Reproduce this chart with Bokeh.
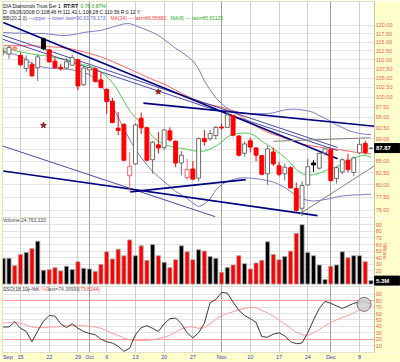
import math
from bokeh.plotting import figure
from bokeh.layouts import column
from bokeh.models import Range1d, FixedTicker, Label, Grid
from bokeh.core.properties import value
from bokeh.embed import file_html
from bokeh.resources import INLINE

# ---------------- data ----------------
dates = ["2008-09-10", "2008-09-11", "2008-09-12", "2008-09-15", "2008-09-16",
         "2008-09-17", "2008-09-18", "2008-09-19", "2008-09-22", "2008-09-23",
         "2008-09-24", "2008-09-25", "2008-09-26", "2008-09-29", "2008-09-30",
         "2008-10-01", "2008-10-02", "2008-10-03", "2008-10-06", "2008-10-07",
         "2008-10-08", "2008-10-09", "2008-10-10", "2008-10-13", "2008-10-14",
         "2008-10-15", "2008-10-16", "2008-10-17", "2008-10-20", "2008-10-21",
         "2008-10-22", "2008-10-23", "2008-10-24", "2008-10-27", "2008-10-28",
         "2008-10-29", "2008-10-30", "2008-10-31", "2008-11-03", "2008-11-04",
         "2008-11-05", "2008-11-06", "2008-11-07", "2008-11-10", "2008-11-11",
         "2008-11-12", "2008-11-13", "2008-11-14", "2008-11-17", "2008-11-18",
         "2008-11-19", "2008-11-20", "2008-11-21", "2008-11-24", "2008-11-25",
         "2008-11-26", "2008-11-28", "2008-12-01", "2008-12-02", "2008-12-03",
         "2008-12-04", "2008-12-05", "2008-12-08", "2008-12-09", "2008-12-10"]

opens = [112.2, 111.6, 113.0, 111.2, 107.6, 108.6, 107.8, 116.0, 112.8, 109.6,
         107.9, 107.7, 108.46, 110.0, 103.2, 107.2, 107.5, 104.5, 102.0, 99.0,
         92.4, 93.3, 81.9, 84.4, 94.8, 92.5, 85.3, 88.6, 88.0, 91.8,
         89.4, 84.6, 81.5, 83.3, 81.4, 90.0, 90.0, 90.7, 92.7, 92.6,
         95.5, 90.6, 86.7, 89.5, 87.9, 86.2, 82.3, 87.0, 84.0, 82.3,
         83.6, 79.3, 75.4, 80.0, 84.6, 83.5, 86.8, 87.5, 81.3, 82.7,
         85.2, 82.6, 86.8, 88.9, 87.8]
highs = [113.3, 114.2, 114.1, 112.0, 111.2, 109.4, 111.6, 116.4, 113.0, 110.5,
         108.9, 110.5, 111.41, 110.3, 108.2, 108.3, 107.9, 106.6, 102.3, 99.8,
         96.3, 93.6, 87.0, 93.6, 96.2, 92.8, 89.5, 91.5, 92.3, 92.6,
         89.6, 87.2, 85.5, 85.0, 90.3, 92.0, 92.0, 93.0, 93.5, 96.6,
         95.6, 90.8, 89.3, 90.2, 88.0, 86.3, 88.4, 88.0, 84.8, 84.5,
         83.9, 80.5, 80.8, 85.5, 85.2, 86.8, 87.8, 87.6, 83.8, 85.6,
         86.6, 86.0, 89.9, 89.5, 88.0]
lows = [111.2, 110.3, 112.4, 108.2, 106.6, 105.2, 104.2, 112.7, 109.2, 107.6,
        107.0, 107.5, 108.28, 101.8, 103.0, 106.0, 103.8, 102.2, 95.9, 93.6,
        90.8, 85.0, 78.7, 84.2, 91.1, 85.0, 82.3, 86.7, 87.4, 89.3,
        83.7, 82.0, 81.0, 81.0, 80.7, 88.4, 89.5, 89.8, 92.0, 92.5,
        90.5, 86.0, 86.0, 86.9, 85.0, 82.0, 80.0, 84.0, 81.8, 80.9,
        79.3, 74.7, 73.9, 79.9, 82.7, 83.2, 86.2, 80.7, 80.3, 82.2,
        82.6, 81.8, 86.5, 86.5, 87.7]
closes = [112.4, 113.5, 113.4, 108.6, 110.0, 105.6, 110.8, 113.1, 109.4, 107.8,
          107.5, 109.4, 110.56, 102.9, 107.7, 107.8, 104.1, 102.5, 98.9, 93.8,
          91.9, 85.2, 83.9, 93.2, 92.5, 85.2, 89.2, 87.9, 92.0, 89.7,
          84.6, 86.3, 83.2, 81.2, 90.0, 89.3, 91.2, 92.6, 92.5, 95.6,
          90.8, 86.3, 88.8, 88.1, 86.3, 82.2, 87.7, 84.4, 82.2, 83.7,
          79.4, 75.0, 79.9, 83.8, 84.2, 86.7, 87.7, 80.9, 83.6, 85.3,
          83.2, 85.7, 88.7, 86.9, 87.87]
volumes = [39, 39, 28, 45, 48, 54, 65, 21, 22, 25,
           20, 27, 22, 34, 24, 23, 19, 30, 49, 38,
           53, 43, 67, 43, 58, 36, 60, 43, 33, 25,
           37, 58, 49, 37, 52, 50, 42, 39, 18, 25,
           29, 43, 31, 23, 32, 36, 64, 45, 37, 42,
           50, 77, 90, 48, 43, 29, 7, 27, 29, 49,
           40, 43, 43, 34, 5.3]
ma8 = [113.4, 113.0, 112.6, 112.2, 111.9, 111.6, 111.3, 111.2, 110.9, 110.6,
       110.3, 110.1, 109.6, 109.0, 108.6, 108.3, 107.6, 106.6, 105.4, 103.8,
       101.6, 99.0, 96.6, 95.0, 93.6, 92.0, 90.5, 89.4, 88.7, 88.3,
       88.0, 87.8, 87.6, 87.3, 87.1, 87.2, 87.6, 88.3, 89.2, 90.4,
       91.0, 91.2, 91.3, 91.2, 90.5, 89.4, 88.6, 87.7, 86.8, 85.8,
       84.6, 83.2, 82.3, 82.0, 82.1, 82.4, 82.9, 83.4, 83.8, 84.4,
       85.0, 85.6, 86.1, 86.3, 85.8]
ma34 = [114.0, 114.0, 114.0, 114.0, 114.0, 114.0, 113.9, 113.8, 113.7, 113.6,
        113.5, 113.3, 113.0, 112.6, 112.2, 111.8, 111.3, 110.8, 110.2, 109.5,
        108.8, 108.1, 107.4, 106.7, 106.0, 105.3, 104.6, 104.0, 103.4, 102.6,
        101.8, 101.0, 100.3, 99.6, 99.0, 98.5, 98.1, 97.8, 97.5, 97.0,
        96.4, 95.6, 94.7, 93.8, 92.9, 92.1, 91.5, 91.0, 90.6, 90.1,
        89.7, 89.2, 88.8, 88.5, 88.3, 88.1, 87.9, 87.8, 87.6, 87.4,
        87.2, 87.0, 86.9, 86.7, 86.56]
bb_upper = [117.9, 117.8, 117.7, 117.7, 117.6, 117.6, 117.6, 117.6, 117.4, 117.2,
            117.0, 117.0, 117.2, 117.5, 117.9, 118.1, 118.3, 118.5, 119.0, 119.5,
            120.0, 120.5, 120.6, 120.0, 119.3, 118.6, 117.9, 117.0, 115.8, 114.5,
            113.2, 112.2, 111.0, 109.7, 107.5, 104.2, 101.9, 99.8, 98.4, 97.2,
            96.6, 96.2, 96.0, 95.9, 95.9, 95.9, 95.9, 96.1, 96.5, 96.8,
            97.0, 97.0, 96.8, 96.6, 96.2, 95.4, 94.8, 94.0, 93.2, 92.6,
            91.9, 91.5, 91.2, 91.0, 90.93]
bb_lower = [112.0, 111.8, 111.5, 111.0, 110.0, 108.9, 108.3, 107.9, 107.7, 107.6,
            107.5, 107.4, 107.2, 106.9, 106.5, 105.9, 104.8, 103.2, 100.8, 97.9,
            95.0, 92.3, 89.8, 87.6, 85.8, 84.2, 82.8, 81.7, 80.7, 79.7,
            78.7, 78.0, 77.3, 76.4, 75.7, 76.2, 77.2, 79.0, 80.1, 80.7,
            81.1, 81.4, 81.5, 81.4, 81.3, 81.1, 80.9, 80.6, 80.1, 79.5,
            78.7, 77.9, 77.3, 76.9, 76.8, 76.9, 77.1, 77.3, 77.6, 77.8,
            77.9, 78.0, 78.0, 78.1, 78.17]
sso_k = [39, 39, 47, 37, 32, 16, 33, 48, 57, 56,
         44, 38, 44, 37, 32, 29, 27, 20, 16, 14,
         9, 1, 6, 27, 38, 41, 37, 32, 44, 52,
         53, 44, 30, 22, 30, 45, 77, 82, 93, 92,
         78, 65, 57, 52, 46, 24, 23, 28, 30, 25,
         16, 13, 14, 30, 50, 68, 79, 76, 72, 68,
         72, 76, 78, 78, 74.4]
sso_d = [45, 46, 47, 45, 42, 39, 38, 38, 39, 39,
         40, 41, 41, 41, 41, 40, 39, 37, 33, 29,
         26, 22, 19, 18, 18, 18, 19, 21, 23, 26,
         31, 36, 39, 39, 37, 38, 44, 51, 57, 60,
         63, 66, 68, 70, 69, 65, 61, 56, 50, 44,
         37, 31, 27, 26, 30, 35, 41, 46, 50, 54,
         57, 61, 66, 69, 72]

# dividend markers (day index, price)
div_idx = [7, 27]
div_price = [93.1, 101.4]

# hand-drawn trend lines: start index, start price, end index, end price
thick_x0 = [0.0, 24.4, 22.1, 0.0]
thick_y0 = [120.9, 98.5, 78.6, 82.9]
thick_x1 = [58.2, 64.6, 42.2, 54.7]
thick_y1 = [85.5, 92.9, 81.1, 74.0]
thin_x0 = [-0.5, -0.5, -0.5]
thin_y0 = [117.3, 116.1, 88.5]
thin_x1 = [58.2, 58.2, 36.9]
thin_y1 = [88.0, 87.3, 73.8]
gray_x0 = [51.7, 47.0]
gray_y0 = [74.4, 89.4]
gray_x1 = [64.6, 63.9]
gray_y1 = [84.0, 90.2]

price_ticks = [75.0, 77.5, 80.0, 82.5, 85.0, 87.5, 90.0, 92.5, 95.0, 97.5, 100.0,
               102.5, 105.0, 107.5, 110.0, 112.5, 115.0, 117.5, 120.0]
price_tick_labels = ["75.00", "77.50", "80.00", "82.50", "85.00", "87.50", "90.00",
                     "92.50", "95.00", "97.50", "100.00", "102.50", "105.00",
                     "107.50", "110.00", "112.50", "115.00", "117.50", "120.00"]
volume_ticks = [10, 20, 30, 40, 50, 60, 70, 80, 90]
volume_tick_labels = ["10", "20", "30", "40", "50", "60", "70", "80", "90"]
sso_ticks = [10, 20, 30, 40, 50, 60, 70, 80, 90]
sso_tick_labels = ["10", "20", "30", "40", "50", "60", "70", "80", "90"]
sso_levels = [20, 80]
x_label_pos = [0.8, 3, 8, 13, 15, 18, 23, 28, 33, 38, 43, 48, 53, 57, 62]
x_label_text = ["Sep", "15", "22", "29", "Oct", "6", "13", "20", "27",
                "Nov", "10", "17", "24", "Dec", "8"]
week_lines = [3, 8, 13, 18, 23, 28, 33, 43, 48, 53, 62]
month_lines = [15, 38, 57]

# ---------------- styling ----------------
FONT = "Liberation Sans"
BORDER = "#FFFFCC"
OUTLINE = "#C4C4A4"
AXIS_RED = "#F06060"
PX = 5.746                      # pixels per trading day
X0 = -0.13
X1 = X0 + 372 / PX              # right edge of the plotting area
X1E = X0 + 398 / PX             # right edge of the yellow scale strip
xs = list(range(len(dates)))


def make_fig(height, y_range, ticks, labels, y_type="linear", top=0, bottom=0,
             x_loc=None):
    p = figure(width=400, height=height, x_range=Range1d(X0, X1E), y_range=y_range,
               y_axis_type=y_type, y_axis_location=None, x_axis_location=x_loc,
               toolbar_location=None, output_backend="svg",
               min_border_left=2, min_border_right=0,
               min_border_top=top, min_border_bottom=bottom)
    p.border_fill_color = BORDER
    p.background_fill_color = "white"
    p.outline_line_color = None
    p.xgrid.visible = False
    p.ygrid.visible = False
    p.add_layout(Grid(dimension=1, ticker=FixedTicker(ticks=ticks),
                      grid_line_color="#E4E4E4"))
    p.add_layout(Grid(dimension=0, ticker=FixedTicker(ticks=week_lines),
                      grid_line_color="#CFCFCF"))
    p.add_layout(Grid(dimension=0, ticker=FixedTicker(ticks=month_lines),
                      grid_line_color="#A0A0A0"))
    p._ticks = (ticks, labels)
    return p


def finish_strip(p):
    lo, hi = p.y_range.start, p.y_range.end
    p.quad(left=[X1], right=[X1E], bottom=[lo], top=[hi], fill_color=BORDER,
           line_color=None)
    p.quad(left=[X0], right=[X1], bottom=[lo], top=[hi], fill_color=None,
           line_color=OUTLINE, line_width=1)
    ticks, labels = p._ticks
    p.text(x=[X1 + 0.2] * len(ticks), y=ticks, text=labels,
           text_font=value(FONT), text_font_size=value("5.5px"),
           text_color=AXIS_RED, text_baseline="middle", text_align="left")


def tag(p, yv, s):
    p.rect(x=[X1 + 2.2], y=[yv], width=25, height=9, width_units="screen",
           height_units="screen", fill_color="black", line_color="black")
    p.text(x=[X1 + 0.25], y=[yv], text=[s], text_font=value(FONT),
           text_font_size=value("6px"), text_font_style="bold",
           text_color="white", text_baseline="middle", text_align="left")


def txt(p, x, y, s, color="#222222", size="5px", style="normal"):
    p.add_layout(Label(x=x, y=y, x_units="screen", y_units="screen", text=s,
                       text_font=FONT, text_font_size=size, text_color=color,
                       text_baseline="middle", text_align="left",
                       text_font_style=style))


# ---------------- price panel ----------------
p1 = make_fig(217, Range1d(73.65, 127.55), price_ticks, price_tick_labels,
              y_type="log", top=1)

p1.line(xs, bb_upper, color="#7B7BC8", line_width=1)
p1.line(xs, bb_lower, color="#7B7BC8", line_width=1)
p1.line(xs, ma34, color="#FF6060", line_width=1)
p1.line(xs, ma8, color="#50D050", line_width=1)

p1.segment(thin_x0, thin_y0, thin_x1, thin_y1, color="#4A4AA8", line_width=1)
p1.segment(thick_x0, thick_y0, thick_x1, thick_y1, color="#000080", line_width=1.6)
p1.segment(gray_x0, gray_y0, gray_x1, gray_y1, color="#808080", line_width=1)

up = [i == 0 or closes[i] >= closes[i - 1] for i in xs]
filled = [closes[i] < opens[i] for i in xs]
wick_c, body_fill, body_line = [], [], []
for i in xs:
    if up[i]:
        wick_c.append("#000000" if filled[i] else "#707070")
        body_fill.append("#000000" if filled[i] else "white")
        body_line.append("#000000" if filled[i] else "#6A6A6A")
    else:
        wick_c.append("#FF0000" if filled[i] else "#FF7070")
        body_fill.append("#FF0000" if filled[i] else "white")
        body_line.append("#FF0000" if filled[i] else "#FF6060")
p1.segment(xs, lows, xs, highs, color=wick_c, line_width=1)
p1.vbar(x=xs, width=0.68, top=[max(o, c) for o, c in zip(opens, closes)],
        bottom=[min(o, c) for o, c in zip(opens, closes)],
        fill_color=body_fill, line_color=body_line, line_width=1)

p1.scatter(div_idx, div_price, marker="star", size=6, fill_color="#8B2020",
           line_color="#8B2020")
finish_strip(p1)
tag(p1, closes[-1], "87.87")

txt(p1, 0.5, 212, "DIA Diamonds Trust Ser 1", "#111111")
txt(p1, 61, 212, "RT:RT", "#111111", style="bold")
txt(p1, 78, 212, "0.76", "#00A000")
txt(p1, 89, 212, "0.87%", "#00A000")
txt(p1, 0.5, 205.5, "D: 09/26/2008 O:108.46 H:111.41 L:108.28 C:110.56 R:0.12 Y", "#111111")
txt(p1, 0.5, 200, "BB(20,2.0)", "#333333")
txt(p1, 25.5, 200, "\u2014upper \u2014lower  last=90.93,78.173", "#6B6BC0")
txt(p1, 108, 200, "MA(34) \u2014 last=86.55882", "#FF4040")
txt(p1, 168, 200, "MA(8) \u2014 last=85.81125", "#30B030")

# ---------------- volume panel ----------------
p2 = make_fig(69, Range1d(-3.6, 100.9), volume_ticks, volume_tick_labels)
vol_colors = ["#000000" if u else "#FF0000" for u in up]
p2.vbar(x=xs, width=0.72, top=volumes, bottom=0, fill_color=vol_colors,
        line_color="#A8A8A8", line_width=0.8)
finish_strip(p2)
p2.text(x=[X1 + 1.9], y=[50], text=["Millions"], angle=-math.pi / 2,
        text_font=value(FONT), text_font_size=value("5px"), text_color=AXIS_RED,
        text_baseline="middle", text_align="center")
tag(p2, volumes[-1], "5.3M")
txt(p2, 0.5, 66.5, "Volume 24,763,220", "#444444")

# ---------------- SSO panel ----------------
p3 = make_fig(76, Range1d(-0.8, 102.3), sso_ticks, sso_tick_labels, bottom=9,
              x_loc="below")
p3.add_layout(Grid(dimension=1, ticker=FixedTicker(ticks=sso_levels),
                   grid_line_color="#FF9C9C"))
p3.line(xs, sso_d, color="#FF9C9C", line_width=1)
p3.line(xs, sso_k, color="#3A3A3A", line_width=1)
p3.scatter([xs[-1] - 1.2], [sso_k[-1]], size=14, fill_color="#CFCFCF",
           fill_alpha=0.85, line_color="#707070", line_width=1)
finish_strip(p3)
xa = p3.xaxis[0]
xa.ticker = FixedTicker(ticks=x_label_pos)
xa.major_label_overrides = dict(zip(x_label_pos, x_label_text))
xa.axis_line_color = None
xa.major_tick_line_color = None
xa.minor_tick_line_color = None
xa.major_tick_out = 0
xa.major_tick_in = 0
xa.major_label_standoff = 1
xa.major_label_text_font = FONT
xa.major_label_text_font_size = "5.5px"
xa.major_label_text_color = "#3040C8"
txt(p3, 0.5, 64, "SSO(18,10)", "#333333")
txt(p3, 24, 64, "\u2014%K", "#333333")
txt(p3, 34, 64, "\u2014%D", "#FF8080")
txt(p3, 45, 64, "last=74.39999", "#555555")
txt(p3, 76, 64, "(79.8244)", "#FF4040")

for p in (p1, p2, p3):
    del p._ticks

layout = column(p1, p2, p3, spacing=0)
open("out.html", "w").write(file_html(layout, INLINE))
